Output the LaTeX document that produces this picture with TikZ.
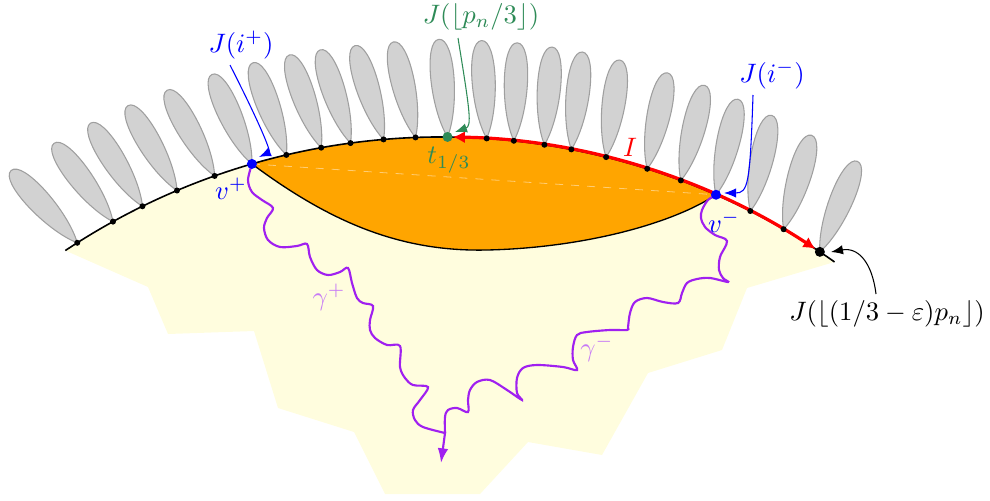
\documentclass[tikz,border=0pt]{standalone}
\usetikzlibrary{calc,arrows.meta}
\definecolor{lyellow}{RGB}{255,253,222}
\definecolor{sgreen}{RGB}{46,139,87}
\definecolor{vpurple}{RGB}{160,32,240}
\definecolor{porange}{RGB}{255,165,0}
\tikzset{
  petal/.style={fill=gray!35, draw=gray!75, line width=0.4pt},
  smalldot/.style={fill=black},
  wig/.style={draw=vpurple, line width=0.8pt},
  lbl/.style={inner sep=1pt},
  tip/.style={-{Latex[length=4.5pt,width=3.5pt]}}
}
\begin{document}
\begin{tikzpicture}[x=0.375pt,y=0.375pt]
\useasboundingbox (0,0) rectangle (990,-500);
\coordinate (C) at (441.6,-816.9);
% petals
\foreach \a/\d in {122.4/132.5, 118.9/127, 116.1/122, 112.9/120, 109.5/119, 106.2/114, 103.2/110, 100.2/109, 97.7/108, 94.9/107, 92.2/103, 89.5/95, 86.2/93, 83.9/88, 81.3/85.5, 79.0/83.5, 76.0/82, 72.4/78, 69.4/76, 66.2/77, 63.0/77.5, 59.8/73.5, 56.2/67.5}{
  \coordinate (P) at ($(C)+(\a:680)$);
  \filldraw[petal, shift={(P)}, rotate=\d] (0,0) .. controls (30,15) and (98,16) .. (98,0) .. controls (98,-16) and (30,-15) .. (0,0);
}
% yellow region
\fill[lyellow] ($(C)+(123.6:680)$) arc[start angle=123.6, end angle=54.7, radius=680]
  -- (747,-288) -- (722,-350) -- (648,-373) -- (602,-455) -- (528,-442) -- (480,-494)
  -- (385,-494) -- (354,-432) -- (278,-408) -- (254,-331) -- (168,-334) -- (148,-287) -- cycle;
% named points
\coordinate (vp) at ($(C)+(106.2:680)$);
\coordinate (vm) at ($(C)+(66.2:680)$);
\coordinate (tt) at ($(C)+(89.5:680)$);
\coordinate (jend) at ($(C)+(56.2:680)$);
\coordinate (lens) at (487,-250);
% orange lens
\fill[porange] (vp) arc[start angle=106.2, end angle=66.2, radius=680]
  .. controls (670,-225) and (580,-248) .. (lens) .. controls (400,-252) and (330,-222) .. (vp) -- cycle;
\draw[black, line width=0.5pt] (vp) .. controls (330,-222) and (400,-252) .. (lens) .. controls (580,-248) and (670,-225) .. (vm);
\draw[white, opacity=0.45, dashed, line width=0.3pt] (vp) -- (vm);
% boundary arc
\draw[black, line width=0.6pt] ($(C)+(123.6:680)$) arc[start angle=123.6, end angle=54.7, radius=680];
% red interval I
\draw[red, line width=1.2pt, {Latex[length=4.5pt,width=4.5pt]}-{Latex[length=4.5pt,width=4.5pt]}] ($(C)+(89.05:680)$) arc[start angle=89.05, end angle=56.65, radius=680];
% dots
\foreach \a in {122.4, 118.9, 116.1, 112.9, 109.5, 103.2, 100.2, 97.7, 94.9, 92.2, 86.2, 83.9, 81.3, 79.0, 76.0, 72.4, 69.4, 63.0, 59.8}{
  \fill[smalldot] ($(C)+(\a:680)$) circle[radius=3];
}
% paths gamma
\draw[wig, -{Latex[length=5.5pt,width=4pt]}] plot[smooth, tension=0.55] coordinates {(252,-164) (248,-180) (252,-192) (262,-200) (273,-208) (267,-218) (264,-228) (268,-240) (280,-247) (297,-246) (307,-244) (310,-257) (317,-270) (328,-275) (340,-272) (348,-268) (352,-283) (357,-298) (363,-303) (373,-306) (370,-320) (370,-330) (375,-338) (387,-345) (400,-346) (400,-367) (405,-378) (413,-385) (428,-387) (420,-400) (413,-410) (415,-420) (423,-427) (445,-433)} -- (441,-463);
\draw[wig] plot[smooth, tension=0.55] coordinates {(716,-195) (708,-200) (702,-210) (701,-218) (705,-227) (715,-235) (727,-241) (720,-257) (719,-270) (723,-278) (728,-282) (710,-278) (697,-279) (687,-283) (682,-293) (678,-303) (663,-302) (647,-298) (635,-302) (630,-313) (628,-327) (627,-330) (610,-330) (587,-332) (577,-335) (573,-347) (573,-360) (577,-370) (563,-367) (537,-365) (523,-368) (517,-378) (517,-393) (522,-400) (507,-390) (490,-380) (477,-382) (470,-390) (468,-400) (468,-412) (457,-408) (448,-410) (445,-417) (445,-433)};
% special dots
\fill[blue] (vp) circle[radius=5];
\fill[blue] (vm) circle[radius=5];
\fill[sgreen] (tt) circle[radius=5];
\fill[black] (jend) circle[radius=5];
% labels
\node[lbl, blue] (lJp) at (241,-45) {$J(i^+)$};
\node[lbl, sgreen] (lJt) at (481,-17) {$J(\lfloor p_n/3\rfloor)$};
\node[lbl, blue] (lJm) at (772,-75) {$J(i^-)$};
\node[lbl, black] (lJe) at (887,-314) {$J(\lfloor(1/3-\varepsilon)p_n\rfloor)$};
\node[lbl, sgreen] (lt) at (449,-160) {$t_{1/3}$};
\node[lbl, red] (lI) at (630,-147) {$I$};
\node[lbl, blue] (lvp) at (231,-189) {$v^+$};
\node[lbl, blue] (lvm) at (724,-222) {$v^-$};
\node[lbl, vpurple!60] (lgp) at (329,-297) {$\gamma^+$};
\node[lbl, vpurple!60] (lgm) at (597,-348) {$\gamma^-$};
% label arrows
\coordinate (aJp) at (230,-65);
\coordinate (eJp) at (259,-157);
\draw[blue, line width=0.4pt, tip] (aJp) .. controls (268,-140) and (270,-152) .. (eJp);
\coordinate (aJt) at (458,-38);
\coordinate (eJt) at (455,-132);
\draw[sgreen, line width=0.4pt, tip] (aJt) .. controls (470,-112) and (472,-126) .. (eJt);
\coordinate (aJm) at (753,-95);
\coordinate (eJm) at (724,-193);
\draw[blue, line width=0.4pt, tip] (aJm) .. controls (750,-185) and (748,-193) .. (eJm);
\coordinate (aJe) at (876,-294);
\coordinate (eJe) at (831,-252);
\draw[black, line width=0.4pt, tip] (aJe) .. controls (872,-262) and (858,-247) .. (eJe);
\end{tikzpicture}
\end{document}
